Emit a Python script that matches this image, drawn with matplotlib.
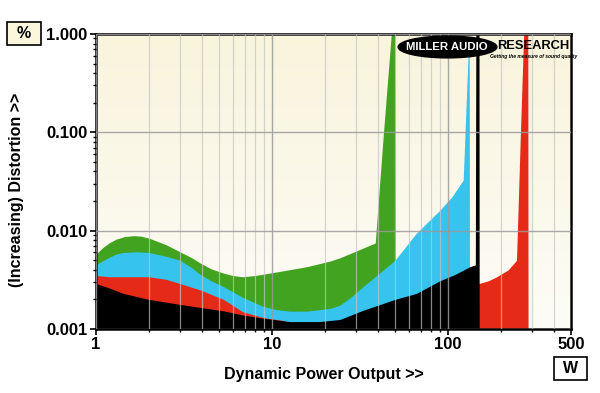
#!/usr/bin/env python3

import numpy as np
import matplotlib
matplotlib.use("Agg")
import matplotlib.pyplot as plt
from matplotlib.patches import Ellipse, Rectangle
from matplotlib.ticker import FixedLocator, NullFormatter

plt.rcParams['font.family'] = ['Liberation Sans', 'DejaVu Sans']

# Distortion vs dynamic power output (W, %), one trace per load
green_w = [1.0, 1.1, 1.2, 1.3, 1.45, 1.63, 1.8, 2.0, 2.5, 3.0, 3.5, 3.9,
           4.5, 5.3, 6.0, 6.8, 8.0, 9.7, 12.5, 15.7, 21.3, 24.3, 30, 38.6,
           43, 48, 50, 50.4]
green_pct = [0.0058, 0.0068, 0.0076, 0.0082, 0.0087, 0.0089, 0.0088, 0.0084,
             0.0072, 0.0061, 0.0053, 0.0047, 0.0041, 0.0037, 0.0035, 0.0034,
             0.0035, 0.0037, 0.0040, 0.0043, 0.0049, 0.0053, 0.0062, 0.0075,
             0.1, 1.2, 1.2, 0.001]

cyan_w = [1.0, 1.1, 1.2, 1.3, 1.43, 1.7, 2.0, 2.5, 3.0, 3.5, 3.9, 4.5, 5.3,
          6.8, 8.9, 10.5, 12.6, 15.7, 21.3, 24.3, 28, 32.9, 40, 49.9, 66, 90,
          105, 122, 130, 132, 132.5]
cyan_pct = [0.0045, 0.0050, 0.0054, 0.0058, 0.0060, 0.0061, 0.0060, 0.0055,
            0.0050, 0.0042, 0.0036, 0.0031, 0.0027, 0.0021, 0.0017, 0.00158,
            0.00152, 0.00152, 0.00162, 0.00175, 0.0021, 0.0027, 0.0036,
            0.0050, 0.0094, 0.0162, 0.022, 0.0327, 0.6, 0.6, 0.001]

red_w = [1.0, 1.2, 1.43, 2.0, 2.5, 3.0, 3.9, 5.3, 6.8, 8.9, 11.6, 14, 20,
         40, 80, 143, 150, 170, 189, 220, 245, 258, 270, 284, 285]
red_pct = [0.0035, 0.0034, 0.0034, 0.0034, 0.0032, 0.0029, 0.0025, 0.0020,
           0.0015, 0.00131, 0.00122, 0.00110, 0.00105, 0.0013, 0.0020, 0.0029,
           0.0029, 0.0031, 0.0034, 0.0040, 0.0050, 0.1, 1.2, 1.2, 0.001]

black_w = [1.0, 1.2, 1.43, 2.0, 3.0, 5.3, 6.8, 8.9, 12.6, 18.5, 24.3, 32.9,
           49.9, 66, 90, 110, 133, 143, 144, 150, 150.4]
black_pct = [0.0029, 0.0026, 0.0023, 0.0020, 0.00178, 0.00153, 0.00139,
             0.00129, 0.00119, 0.00119, 0.00125, 0.00155, 0.0020, 0.0023,
             0.0031, 0.0036, 0.0043, 0.0045, 1.2, 1.2, 0.001]

xticks = [1, 10, 100, 500]
xtick_labels = ['1', '10', '100', '500']
yticks = [0.001, 0.01, 0.1, 1.0]
ytick_labels = ['0.001', '0.010', '0.100', '1.000']

fig = plt.figure(figsize=(6, 3.93), dpi=100)
fig.patch.set_facecolor('white')
ax = fig.add_axes([0.16, 0.1628, 0.7917, 0.7507])
ax.set_xscale('log')
ax.set_yscale('log')
ax.set_xlim(1, 500)
ax.set_ylim(0.001, 1.0)

# cream gradient background, lighter towards the bottom
grad = np.linspace(0, 1, 256).reshape(-1, 1)
cmap = matplotlib.colors.LinearSegmentedColormap.from_list(
    'bg', ['#fdfcf7', '#f9f4dc'])
ax.imshow(grad, extent=[0, 1, 0, 1], transform=ax.transAxes, aspect='auto',
          cmap=cmap, origin='lower', zorder=0)

for w, p, col in [(green_w, green_pct, '#41a31f'),
                  (cyan_w, cyan_pct, '#36c3ee'),
                  (red_w, red_pct, '#e52b17'),
                  (black_w, black_pct, '#000000')]:
    ax.fill_between(w, p, 0.001, color=col, linewidth=0, zorder=1)

ax.xaxis.set_major_locator(FixedLocator(xticks))
ax.set_xticklabels(xtick_labels)
xminor = [m * d for d in (1, 10, 100) for m in range(2, 10) if m * d < 500]
ax.xaxis.set_minor_locator(FixedLocator(xminor))
ax.xaxis.set_minor_formatter(NullFormatter())
ax.yaxis.set_major_locator(FixedLocator(yticks))
ax.set_yticklabels(ytick_labels)
yminor = [m * d for d in (0.001, 0.01, 0.1) for m in range(2, 10)]
ax.yaxis.set_minor_locator(FixedLocator(yminor))
ax.yaxis.set_minor_formatter(NullFormatter())

ax.set_axisbelow(False)
ax.grid(axis='x', which='minor', color='#c4c4c4', alpha=0.7, linewidth=0.9)
ax.grid(axis='x', which='major', color='#9a9a9a', alpha=0.85, linewidth=1.0)
ax.grid(axis='y', which='major', color='#9a9a9a', alpha=0.85, linewidth=1.0)

ax.tick_params(which='major', length=4, width=1.2, labelsize=12, pad=2)
ax.tick_params(which='minor', length=2.5, width=1.0)
for lab in ax.get_xticklabels() + ax.get_yticklabels():
    lab.set_fontweight('bold')
for s in ax.spines.values():
    s.set_linewidth(1.8)

ax.set_xlabel('Dynamic Power Output >>', fontsize=11.5, fontweight='bold')
ax.xaxis.set_label_coords(0.479, -0.13)
ax.set_ylabel('(Increasing) Distortion >>', fontsize=11.5, fontweight='bold')
ax.yaxis.set_label_coords(-0.152, 0.47)

# logo
ax.add_patch(Ellipse((0.74, 0.956), 0.208, 0.074, transform=ax.transAxes,
                     facecolor='black', edgecolor='black', zorder=5,
                     clip_on=False))
ax.text(0.738, 0.955, 'MILLER AUDIO', transform=ax.transAxes, color='white',
        fontsize=8.2, fontweight='heavy', ha='center', va='center', zorder=6)
ax.text(0.844, 0.958, 'RESEARCH', transform=ax.transAxes, color='black',
        fontsize=9.3, fontweight='heavy', ha='left', va='center', zorder=6)
ax.text(0.83, 0.925, 'Getting the measure of sound quality',
        transform=ax.transAxes, color='black', fontsize=3.6,
        fontweight='bold', fontstyle='italic', ha='left', va='center',
        zorder=6)

# unit boxes
fig.add_artist(Rectangle((0.0117, 0.8855), 0.0567, 0.0585,
                         transform=fig.transFigure, facecolor='#fbf7dd',
                         edgecolor='black', linewidth=1.2))
fig.text(0.04, 0.9147, '%', fontsize=11.5, fontweight='bold',
         ha='center', va='center')
fig.add_artist(Rectangle((0.9233, 0.0331), 0.055, 0.0585,
                         transform=fig.transFigure, facecolor='white',
                         edgecolor='black', linewidth=1.2))
fig.text(0.9508, 0.0623, 'W', fontsize=11.5, fontweight='bold',
         ha='center', va='center')

fig.savefig('out.png', dpi=100)
